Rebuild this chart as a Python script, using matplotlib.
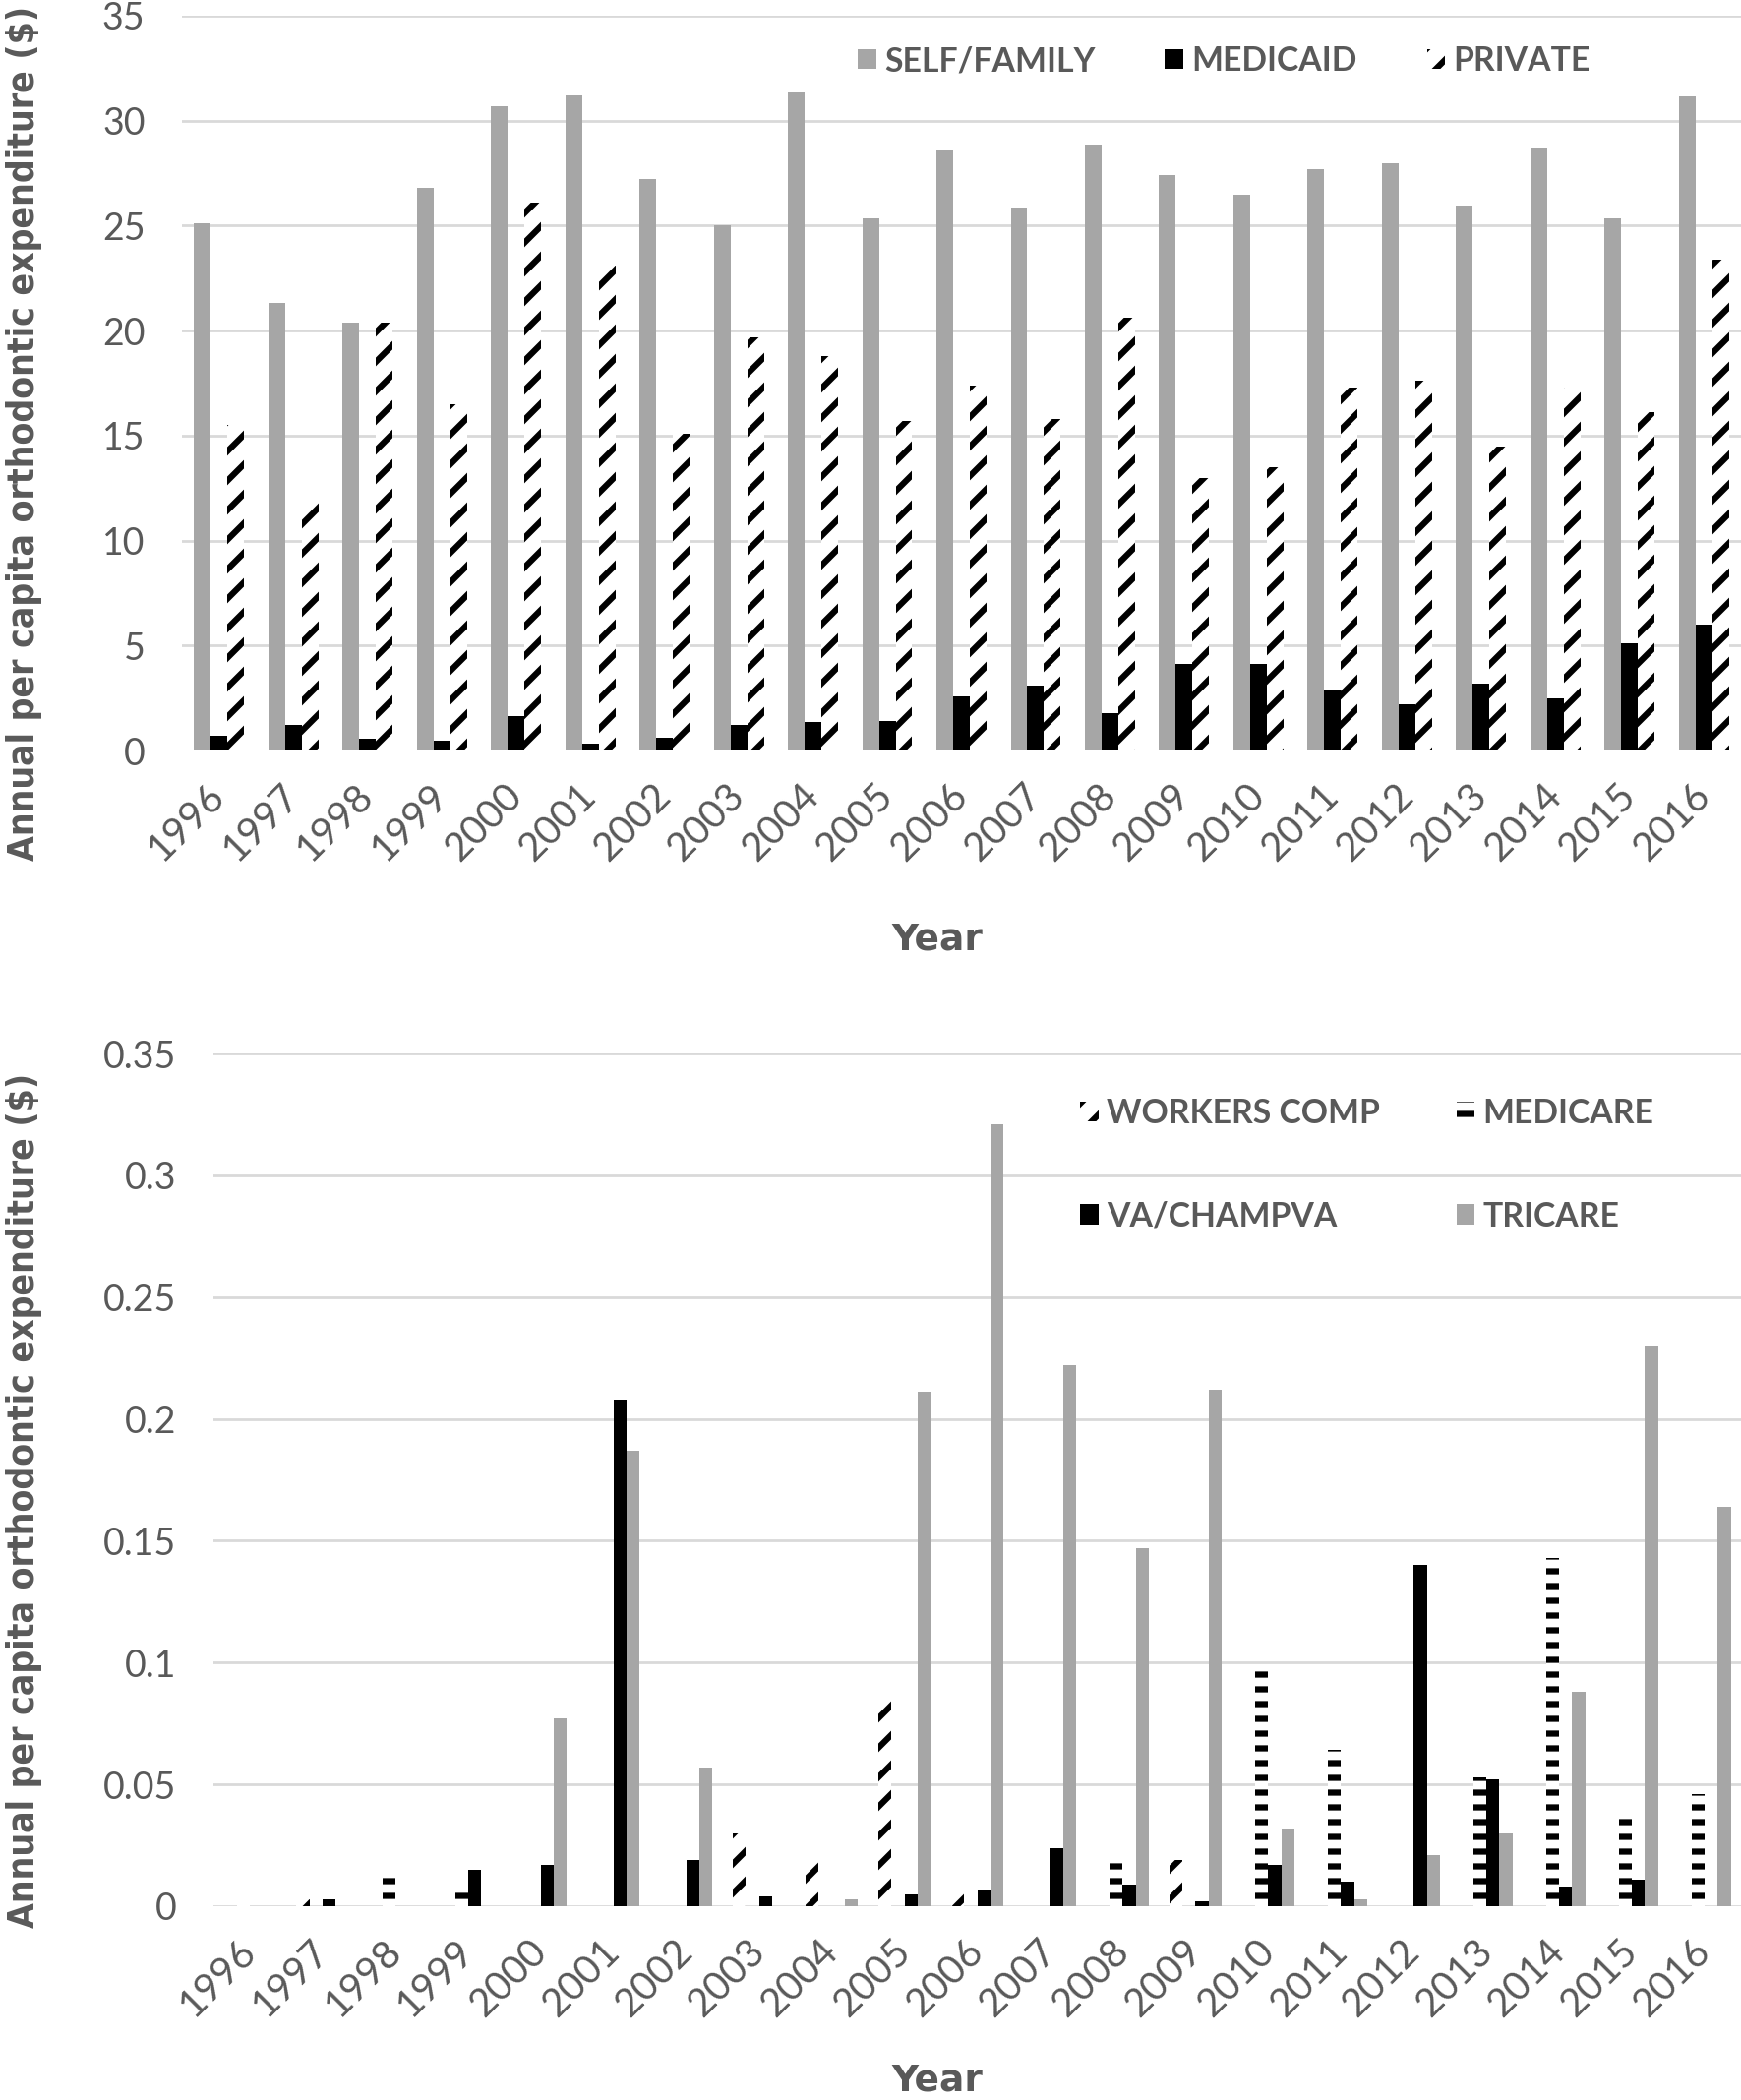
import numpy as np
import matplotlib
matplotlib.use('Agg')
import matplotlib.pyplot as plt

plt.rcParams['font.family'] = ['Lato', 'DejaVu Sans']
plt.rcParams['hatch.linewidth'] = 5

years = ['1996', '1997', '1998', '1999', '2000', '2001', '2002', '2003', '2004', '2005', '2006',
         '2007', '2008', '2009', '2010', '2011', '2012', '2013', '2014', '2015', '2016']

# top panel ($ per capita)
self_family = [25.1, 21.3, 20.4, 26.8, 30.7, 31.2, 27.2, 25.0, 31.35, 25.35, 28.6,
               25.85, 28.85, 27.4, 26.45, 27.7, 27.95, 25.95, 28.7, 25.35, 31.15]
medicaid = [0.7, 1.2, 0.55, 0.45, 1.65, 0.35, 0.6, 1.2, 1.35, 1.4, 2.6,
            3.1, 1.8, 4.1, 4.1, 2.9, 2.2, 3.2, 2.5, 5.1, 6.0]
private = [15.5, 11.8, 20.4, 16.5, 26.1, 23.1, 15.1, 19.7, 18.8, 15.7, 17.4,
           15.8, 20.6, 13.0, 13.5, 17.3, 17.6, 14.5, 17.3, 16.1, 23.4]

# bottom panel
workers_comp = [0, 0.003, 0, 0, 0, 0, 0, 0.030, 0.019, 0.086, 0.007,
                0, 0, 0.019, 0, 0, 0, 0, 0, 0, 0]
medicare = [0.002, 0, 0.012, 0.007, 0, 0, 0, 0, 0, 0, 0,
            0, 0.019, 0, 0.098, 0.064, 0, 0.053, 0.143, 0.036, 0.046]
va_champva = [0, 0.003, 0, 0.015, 0.017, 0.208, 0.019, 0.004, 0, 0.005, 0.007,
              0.024, 0.009, 0.002, 0.017, 0.010, 0.140, 0.052, 0.008, 0.011, 0]
tricare = [0, 0, 0, 0, 0.077, 0.187, 0.057, 0, 0.003, 0.211, 0.321,
           0.222, 0.147, 0.212, 0.032, 0.003, 0.021, 0.030, 0.088, 0.230, 0.164]

top_ticks = [0, 5, 10, 15, 20, 25, 30, 35]
bottom_ticks = [0, 0.05, 0.1, 0.15, 0.2, 0.25, 0.3, 0.35]
bottom_ticklabels = ['0', '0.05', '0.1', '0.15', '0.2', '0.25', '0.3', '0.35']

GRAY = '#a6a6a6'
TXT = '#595959'
GRID = '#d9d9d9'

fig = plt.figure(figsize=(1770 / 90, 2135 / 90), dpi=90)
ax1 = fig.add_axes([185 / 1770, 1 - 763 / 2135, 1585 / 1770, 747 / 2135])
ax2 = fig.add_axes([217 / 1770, 1 - 1938 / 2135, 1553 / 1770, 867 / 2135])

x = np.arange(len(years))

w = 0.225
b_self = ax1.bar(x - w, self_family, w, color=GRAY, label='SELF/FAMILY')
b_med = ax1.bar(x, medicaid, w, color='black', label='MEDICAID')
b_priv = ax1.bar(x + w, private, w, facecolor='white', edgecolor='black', linewidth=0,
                 hatch='/', label='PRIVATE')

w2 = 0.18
b_wc = ax2.bar(x - 1.5 * w2, workers_comp, w2, facecolor='white', edgecolor='black',
               linewidth=0, hatch='/', label='WORKERS COMP')
b_mc = ax2.bar(x - 0.5 * w2, medicare, w2, facecolor='white', edgecolor='black',
               linewidth=0, hatch='-', label='MEDICARE')
b_va = ax2.bar(x + 0.5 * w2, va_champva, w2, color='black', label='VA/CHAMPVA')
b_tr = ax2.bar(x + 1.5 * w2, tricare, w2, color=GRAY, label='TRICARE')

for ax, ticks, lim in [(ax1, top_ticks, 35), (ax2, bottom_ticks, 0.35)]:
    ax.set_xlim(-0.5, len(years) - 0.5)
    ax.set_ylim(0, lim)
    ax.set_yticks(ticks)
    ax.yaxis.grid(True, color=GRID, linewidth=2.2)
    ax.set_axisbelow(True)
    for s in ax.spines.values():
        s.set_visible(False)
    ax.set_xticks(x)
    ax.set_xticklabels(years, rotation=45, ha='right', va='center', rotation_mode='anchor')
    ax.tick_params(axis='both', length=0, labelcolor=TXT)
    ax.tick_params(axis='y', pad=30, labelsize=30)
    ax.tick_params(axis='x', pad=32, labelsize=32)

ax2.set_yticklabels(bottom_ticklabels)

leg_kw = dict(frameon=False, prop={'size': 27, 'weight': 'bold'}, handlelength=0.55,
              handleheight=0.55, handletextpad=0.25, borderpad=0, borderaxespad=0,
              bbox_transform=fig.transFigure, loc='upper left')
l1 = ax1.legend(handles=[b_self, b_med, b_priv], ncol=3, columnspacing=2.1,
                bbox_to_anchor=(872 / 1770, 1 - 46 / 2135), **leg_kw)
l2 = ax2.legend(handles=[b_wc, b_va, b_mc, b_tr], ncol=2, columnspacing=2.3, labelspacing=2.15,
                bbox_to_anchor=(1098 / 1770, 1 - 1116 / 2135), **leg_kw)
for lg in (l1, l2):
    for t in lg.get_texts():
        t.set_color(TXT)

ylab = 'Annual per capita orthodontic expenditure ($)'
ytitles = []
for yc in (440, 1525):
    t = fig.text(25 / 1770, 1 - yc / 2135, ylab, rotation=90, ha='center', va='center',
                 fontsize=24, fontweight='bold', color=TXT, family='DejaVu Sans',
                 fontstretch='condensed')
    ytitles.append(t)

# shrink/grow the rotated titles so they span ~870 px like the original
fig.canvas.draw()
r = fig.canvas.get_renderer()
for t in ytitles:
    h = t.get_window_extent(r).height
    t.set_fontsize(24 * 870 / h)

fig.text(953 / 1770, 1 - 956 / 2135, 'Year', ha='center', va='center',
         fontsize=30, fontweight='bold', color=TXT, family='DejaVu Sans')
fig.text(953 / 1770, 1 - 2116 / 2135, 'Year', ha='center', va='center',
         fontsize=30, fontweight='bold', color=TXT, family='DejaVu Sans')

fig.savefig('out.png', dpi=90, facecolor='white')
